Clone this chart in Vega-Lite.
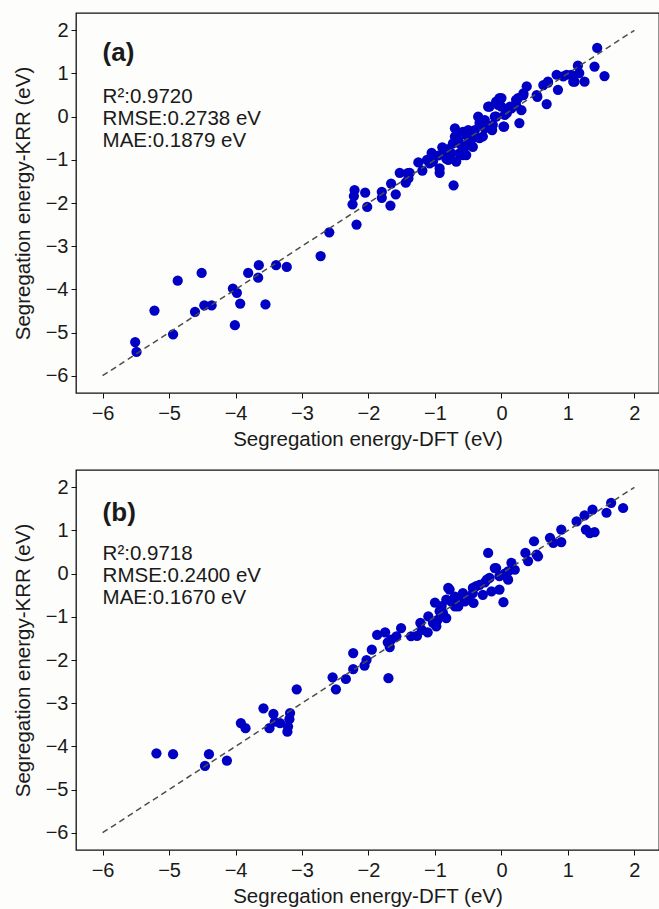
{
  "$schema": "https://vega.github.io/schema/vega-lite/v6.json",
  "background": "#fdfdfb",
  "padding": {"left": 12, "top": 12, "right": 0, "bottom": 5},
  "spacing": 77,
  "bounds": "flush",
  "config": {
    "view": {"stroke": "#111111", "strokeWidth": 1.3},
    "font": "Liberation Sans",
    "axis": {
      "domain": false, "grid": false, "format": "d",
      "tickColor": "#111111", "tickSize": 5, "tickWidth": 1,
      "labelFont": "Liberation Sans", "labelFontSize": 20, "labelColor": "#1a1a1a",
      "titleFont": "Liberation Sans", "titleFontSize": 20.5, "titleFontWeight": "normal", "titleColor": "#1a1a1a"
    },
    "axisX": {"labelPadding": 5, "titlePadding": 6},
    "axisY": {"labelPadding": 3, "titlePadding": 12}
  },
  "datasets": {
    "diag": [{"x": -6, "y": -6}, {"x": 2, "y": 2}],
    "a": [
      {"x":-5.51,"y":-5.22},{"x":-5.49,"y":-5.45},{"x":-5.22,"y":-4.49},{"x":-4.94,"y":-5.04},{"x":-4.87,"y":-3.80},{"x":-4.61,"y":-4.52},{"x":-4.51,"y":-3.62},{"x":-4.47,"y":-4.37},{"x":-4.36,"y":-4.37},{"x":-4.04,"y":-3.98},{"x":-3.98,"y":-4.08},{"x":-4.01,"y":-4.83},{"x":-3.93,"y":-4.33},{"x":-3.81,"y":-3.62},{"x":-3.65,"y":-3.44},{"x":-3.66,"y":-3.73},{"x":-3.55,"y":-4.35},{"x":-3.39,"y":-3.44},{"x":-3.23,"y":-3.48},{"x":-2.72,"y":-3.23},{"x":-2.59,"y":-2.68},{"x":-2.24,"y":-2.03},{"x":-2.21,"y":-1.70},{"x":-2.22,"y":-1.84},{"x":-2.18,"y":-2.50},
      {"x":-2.05,"y":-1.76},{"x":-2.02,"y":-2.09},{"x":-1.80,"y":-1.74},{"x":-1.80,"y":-1.88},{"x":-1.67,"y":-2.06},{"x":-1.66,"y":-1.55},{"x":-1.59,"y":-1.80},{"x":-1.53,"y":-1.30},{"x":-1.44,"y":-1.53},{"x":-1.40,"y":-1.43},{"x":-1.38,"y":-1.30},{"x":-1.25,"y":-1.06},{"x":-1.19,"y":-1.25},{"x":-1.05,"y":-0.84},{"x":-1.03,"y":-1.04},{"x":-0.93,"y":-1.30},{"x":-0.89,"y":-0.71},{"x":-0.83,"y":-0.97},{"x":-0.75,"y":-0.85},{"x":-0.72,"y":-1.59},{"x":-0.70,"y":-0.27},{"x":-0.70,"y":-0.46},{"x":-0.73,"y":-0.62},{"x":-0.68,"y":-1.04},{"x":-0.60,"y":-0.66},{"x":-0.58,"y":-0.89},{"x":-0.53,"y":-0.43},{"x":-0.50,"y":-0.62},{"x":-0.43,"y":-0.70},{"x":-0.35,"y":0.0},{"x":-0.33,"y":-0.50},{"x":-0.33,"y":-0.15},{"x":-0.25,"y":-0.27},{"x":-0.20,"y":0.23},{"x":-0.14,"y":-0.31},{"x":-0.10,"y":0.0},{"x":-0.08,"y":0.35},{"x":-0.03,"y":0.43},{"x":0.0,"y":0.23},{"x":0.04,"y":-0.23},{"x":0.08,"y":0.08},{"x":0.15,"y":0.19},{"x":0.22,"y":0.39},{"x":0.27,"y":-0.15},{"x":0.30,"y":0.15},{"x":0.33,"y":0.50},{"x":0.38,"y":0.70},{"x":0.54,"y":0.46},{"x":0.63,"y":0.73},{"x":0.68,"y":0.29},{"x":0.70,"y":0.79},{"x":0.83,"y":0.97},{"x":0.85,"y":0.62},{"x":0.93,"y":0.93},{"x":0.98,"y":0.97},{"x":1.08,"y":0.81},{"x":1.15,"y":1.18},{"x":1.17,"y":1.01},{"x":1.25,"y":0.81},{"x":1.40,"y":1.16},{"x":1.44,"y":1.59},{"x":1.55,"y":0.94},
      {"x":-1.08,"y":-1.08},{"x":-0.93,"y":-1.20},{"x":-0.80,"y":-1.0},{"x":-0.58,"y":-0.35},{"x":-0.63,"y":-0.85},{"x":-0.55,"y":-0.70},{"x":-0.53,"y":-0.89},{"x":1.10,"y":0.81},{"x":1.05,"y":0.97},{"x":0.70,"y":0.81},{"x":0.53,"y":0.50},{"x":0.33,"y":0.54},{"x":0.25,"y":0.43},{"x":0.22,"y":0.27},{"x":0.0,"y":0.43},{"x":-0.05,"y":0.27},{"x":-0.18,"y":0.23},{"x":0.13,"y":0.23},{"x":0.05,"y":0.04},{"x":-0.08,"y":0.0},{"x":-0.25,"y":-0.08},{"x":-0.13,"y":-0.19},{"x":0.03,"y":-0.23},{"x":-0.30,"y":-0.19},{"x":-0.40,"y":-0.31},{"x":-0.50,"y":-0.31},{"x":-0.63,"y":-0.62},{"x":-0.43,"y":-0.50},{"x":-0.28,"y":-0.46},{"x":-1.41,"y":-1.31},{"x":-0.80,"y":-0.75},{"x":-0.95,"y":-0.90},{"x":-1.12,"y":-1.0},{"x":-0.65,"y":-0.55},{"x":-0.85,"y":-0.85},{"x":-0.45,"y":-0.40}
    ],
    "b": [
      {"x":-5.19,"y":-4.16},{"x":-4.94,"y":-4.18},{"x":-4.40,"y":-4.18},{"x":-4.46,"y":-4.45},{"x":-4.13,"y":-4.33},{"x":-3.92,"y":-3.46},{"x":-3.85,"y":-3.58},{"x":-3.58,"y":-3.12},{"x":-3.43,"y":-3.25},{"x":-3.49,"y":-3.58},{"x":-3.41,"y":-3.43},{"x":-3.33,"y":-3.46},{"x":-3.18,"y":-3.23},{"x":-3.19,"y":-3.37},{"x":-3.21,"y":-3.54},{"x":-3.22,"y":-3.66},{"x":-3.08,"y":-2.68},{"x":-2.54,"y":-2.40},{"x":-2.49,"y":-2.68},{"x":-2.34,"y":-2.44},{"x":-2.23,"y":-1.84},{"x":-2.23,"y":-2.21},
      {"x":-2.06,"y":-2.13},{"x":-2.03,"y":-2.0},{"x":-1.95,"y":-1.76},{"x":-1.87,"y":-1.42},{"x":-1.75,"y":-1.36},{"x":-1.71,"y":-1.59},{"x":-1.70,"y":-2.42},{"x":-1.68,"y":-1.70},{"x":-1.51,"y":-1.26},{"x":-1.58,"y":-1.45},{"x":-1.36,"y":-1.45},{"x":-1.27,"y":-1.44},{"x":-1.22,"y":-1.14},{"x":-1.11,"y":-1.36},{"x":-1.10,"y":-0.99},{"x":-1.0,"y":-0.67},{"x":-0.98,"y":-1.22},{"x":-0.93,"y":-0.87},{"x":-0.83,"y":-1.03},{"x":-0.83,"y":-0.60},{"x":-0.80,"y":-0.33},{"x":-0.70,"y":-0.76},{"x":-0.58,"y":-0.49},{"x":-0.55,"y":-0.64},{"x":-0.43,"y":-0.33},{"x":-0.42,"y":-0.68},{"x":-0.33,"y":-0.26},{"x":-0.28,"y":-0.49},{"x":-0.20,"y":0.48},{"x":-0.18,"y":-0.10},{"x":-0.15,"y":-0.41},{"x":-0.10,"y":0.13},{"x":-0.03,"y":-0.06},{"x":0.03,"y":-0.66},{"x":0.10,"y":-0.14},{"x":0.15,"y":0.25},{"x":0.20,"y":0.09},{"x":0.36,"y":0.48},{"x":0.40,"y":0.29},{"x":0.49,"y":0.75},{"x":0.55,"y":0.40},{"x":0.73,"y":0.83},{"x":0.78,"y":0.71},{"x":0.90,"y":1.02},{"x":0.90,"y":0.73},{"x":1.13,"y":1.21},{"x":1.25,"y":1.35},{"x":1.27,"y":1.02},{"x":1.33,"y":0.94},{"x":1.40,"y":0.96},{"x":1.37,"y":1.48},{"x":1.58,"y":1.41},{"x":1.65,"y":1.64},{"x":1.83,"y":1.52},
      {"x":-1.66,"y":-1.53},{"x":-1.03,"y":-1.14},{"x":-0.96,"y":-1.07},{"x":-0.88,"y":-0.91},{"x":-0.70,"y":-0.53},{"x":-0.65,"y":-0.76},{"x":0.53,"y":0.44},{"x":0.10,"y":0.05},{"x":-0.08,"y":0.13},{"x":-0.22,"y":-0.14},{"x":-0.38,"y":-0.29},{"x":-0.43,"y":-0.45},{"x":-0.58,"y":-0.45},{"x":-0.68,"y":-0.64},{"x":-0.78,"y":-0.37},{"x":-0.03,"y":-0.37},{"x":-0.90,"y":-0.75},{"x":-0.50,"y":-0.55},{"x":-0.60,"y":-0.60},{"x":-0.25,"y":-0.20},{"x":0.05,"y":0.0},{"x":-1.20,"y":-1.30},{"x":-0.75,"y":-0.65}
    ]
  },
  "vconcat": [
    {
      "width": 583, "height": 380,
      "layer": [
        {
          "data": {"name": "a"},
          "mark": {"type": "circle", "size": 105, "color": "#0000c4", "opacity": 1},
          "encoding": {
            "x": {"field": "x", "type": "quantitative", "scale": {"domain": [-6.4, 2.37], "nice": false, "zero": false}, "axis": {"values": [-6,-5,-4,-3,-2,-1,0,1,2], "title": "Segregation energy-DFT (eV)"}},
            "y": {"field": "y", "type": "quantitative", "scale": {"domain": [-6.4, 2.4], "nice": false, "zero": false}, "axis": {"values": [-6,-5,-4,-3,-2,-1,0,1,2], "title": "Segregation energy-KRR (eV)"}}
          }
        },
        {
          "data": {"name": "diag"},
          "mark": {"type": "line", "strokeDash": [6, 4], "color": "#4d4d4d", "strokeWidth": 1.5},
          "encoding": {"x": {"field": "x", "type": "quantitative"}, "y": {"field": "y", "type": "quantitative"}}
        },
        {
          "data": {"values": [{}]},
          "mark": {"type": "text", "text": "(a)", "fontSize": 26, "fontWeight": "bold", "align": "left", "baseline": "alphabetic", "color": "#1a1a1a"},
          "encoding": {"x": {"datum": -6}, "y": {"datum": 1.3}}
        },
        {
          "data": {"values": [{}]},
          "mark": {"type": "text", "text": ["R²:0.9720", "RMSE:0.2738 eV", "MAE:0.1879 eV"], "fontSize": 20.5, "lineHeight": 22, "align": "left", "baseline": "alphabetic", "color": "#1a1a1a"},
          "encoding": {"x": {"datum": -6}, "y": {"datum": 0.32}}
        }
      ]
    },
    {
      "width": 583, "height": 380,
      "layer": [
        {
          "data": {"name": "b"},
          "mark": {"type": "circle", "size": 105, "color": "#0000c4", "opacity": 1},
          "encoding": {
            "x": {"field": "x", "type": "quantitative", "scale": {"domain": [-6.4, 2.37], "nice": false, "zero": false}, "axis": {"values": [-6,-5,-4,-3,-2,-1,0,1,2], "title": "Segregation energy-DFT (eV)"}},
            "y": {"field": "y", "type": "quantitative", "scale": {"domain": [-6.4, 2.4], "nice": false, "zero": false}, "axis": {"values": [-6,-5,-4,-3,-2,-1,0,1,2], "title": "Segregation energy-KRR (eV)"}}
          }
        },
        {
          "data": {"name": "diag"},
          "mark": {"type": "line", "strokeDash": [6, 4], "color": "#4d4d4d", "strokeWidth": 1.5},
          "encoding": {"x": {"field": "x", "type": "quantitative"}, "y": {"field": "y", "type": "quantitative"}}
        },
        {
          "data": {"values": [{}]},
          "mark": {"type": "text", "text": "(b)", "fontSize": 26, "fontWeight": "bold", "align": "left", "baseline": "alphabetic", "color": "#1a1a1a"},
          "encoding": {"x": {"datum": -6}, "y": {"datum": 1.22}}
        },
        {
          "data": {"values": [{}]},
          "mark": {"type": "text", "text": ["R²:0.9718", "RMSE:0.2400 eV", "MAE:0.1670 eV"], "fontSize": 20.5, "lineHeight": 22, "align": "left", "baseline": "alphabetic", "color": "#1a1a1a"},
          "encoding": {"x": {"datum": -6}, "y": {"datum": 0.32}}
        }
      ]
    }
  ]
}
